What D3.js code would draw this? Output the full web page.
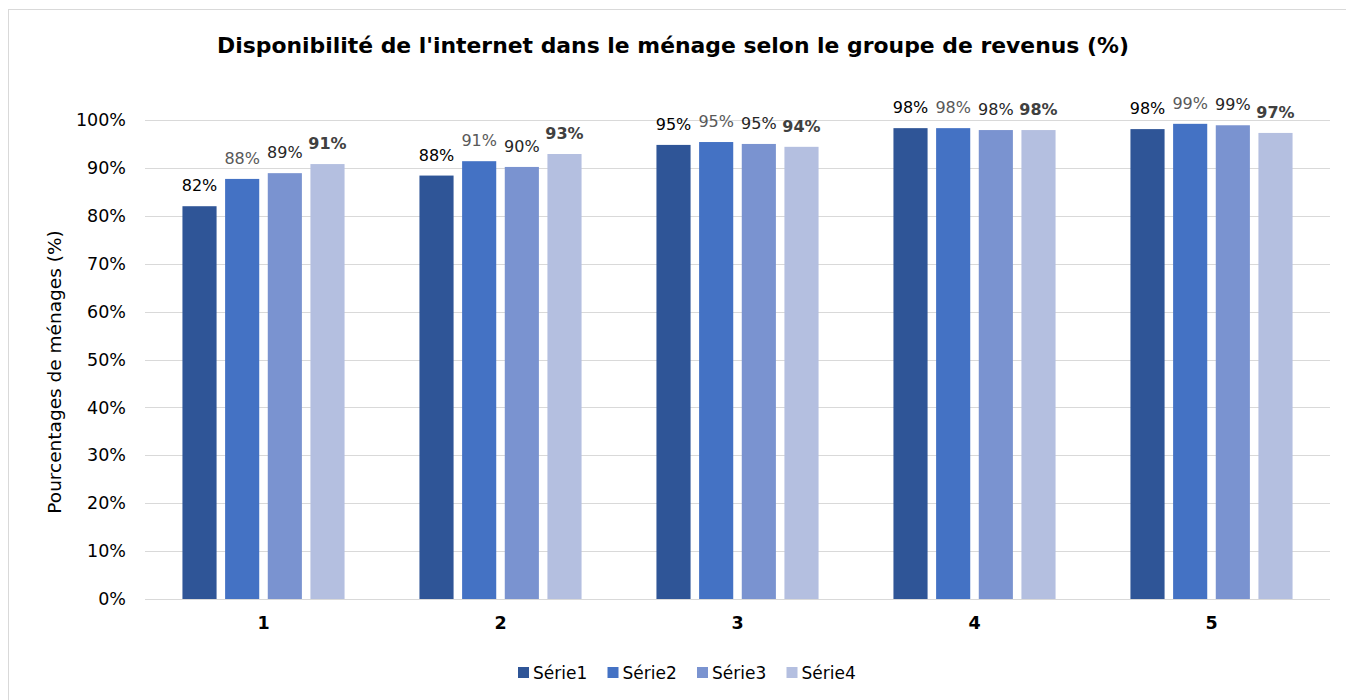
<!DOCTYPE html>
<meta charset="utf-8">
<style>
body { margin: 0; background: #fff; }
svg { font-family: "DejaVu Sans", Verdana, sans-serif; }
.grid line { stroke: #d9d9d9; stroke-width: 1px; }
</style>
<svg width="1346" height="700"></svg>
<script src="https://cdn.jsdelivr.net/npm/d3@7/dist/d3.min.js"></script>
<script>

var categories = ["1", "2", "3", "4", "5"];
var seriesNames = ["Série1", "Série2", "Série3", "Série4"];
var serie1 = [82.0, 88.4, 94.8, 98.3, 98.1];
var serie2 = [87.7, 91.4, 95.4, 98.3, 99.2];
var serie3 = [88.9, 90.2, 95.0, 97.9, 98.9];
var serie4 = [90.8, 92.9, 94.4, 97.9, 97.3];
var yTicks = [0, 10, 20, 30, 40, 50, 60, 70, 80, 90, 100];

var colors = ["#2f5597", "#4472c4", "#7a93d0", "#b4bfe0"];
// each series has its own label style in the original
var labelFill = ["#000000", "#595959", "#262626", "#404040"];
var labelWeight = ["normal", "normal", "normal", "bold"];

var values = [serie1, serie2, serie3, serie4];

var svg = d3.select("svg");

// chart frame
svg.append("rect")
    .attr("x", 8.5).attr("y", 9.5)
    .attr("width", 1400).attr("height", 800)
    .attr("fill", "none")
    .attr("stroke", "#d9d9d9");

var x0 = d3.scaleBand()
    .domain(categories)
    .range([145, 1330])
    .paddingInner(0.316)
    .paddingOuter(0.158);

var x1 = d3.scaleBand()
    .domain(d3.range(seriesNames.length))
    .range([0, x0.bandwidth()])
    .paddingInner(0.2);

var y = d3.scaleLinear()
    .domain([0, 100])
    .range([599, 120]);

// gridlines
svg.append("g")
    .attr("class", "grid")
    .selectAll("line")
    .data(yTicks)
    .enter().append("line")
    .attr("x1", 145).attr("x2", 1330)
    .attr("y1", function(d) { return Math.round(y(d)) + 0.5; })
    .attr("y2", function(d) { return Math.round(y(d)) + 0.5; });

// y axis labels
var yAxis = d3.axisLeft(y)
    .tickValues(yTicks)
    .tickSize(0)
    .tickPadding(19)
    .tickFormat(function(d) { return d + "%"; });

svg.append("g")
    .attr("transform", "translate(145,0)")
    .call(yAxis)
    .call(function(g) { g.select(".domain").remove(); })
    .selectAll("text")
    .attr("font-family", "DejaVu Sans")
    .attr("font-size", 17.5)
    .attr("fill", "#000");

// x axis labels
var xAxis = d3.axisBottom(x0).tickSize(0).tickPadding(18);

svg.append("g")
    .attr("transform", "translate(0,599)")
    .call(xAxis)
    .call(function(g) { g.select(".domain").remove(); })
    .selectAll("text")
    .attr("font-family", "DejaVu Sans")
    .attr("font-size", 17.5)
    .attr("font-weight", "bold")
    .attr("fill", "#000");

// bars
var groups = svg.append("g")
    .selectAll("g")
    .data(categories)
    .enter().append("g")
    .attr("transform", function(d) { return "translate(" + x0(d) + ",0)"; });

groups.selectAll("rect")
    .data(function(d, i) {
        return values.map(function(s, j) { return { s: j, v: s[i] }; });
    })
    .enter().append("rect")
    .attr("x", function(d) { return x1(d.s); })
    .attr("y", function(d) { return y(d.v); })
    .attr("width", x1.bandwidth())
    .attr("height", function(d) { return y(0) - y(d.v); })
    .attr("fill", function(d) { return colors[d.s]; });

groups.selectAll("text")
    .data(function(d, i) {
        return values.map(function(s, j) { return { s: j, v: s[i] }; });
    })
    .enter().append("text")
    .attr("x", function(d) { return x1(d.s) + x1.bandwidth() / 2; })
    .attr("y", function(d) { return y(d.v) - 15; })
    .attr("text-anchor", "middle")
    .attr("font-size", 16)
    .attr("font-weight", function(d) { return labelWeight[d.s]; })
    .attr("fill", function(d) { return labelFill[d.s]; })
    .text(function(d) { return Math.round(d.v) + "%"; });

// title
svg.append("text")
    .attr("x", 673)
    .attr("y", 53)
    .attr("text-anchor", "middle")
    .attr("font-size", 21.9)
    .attr("font-weight", "bold")
    .attr("fill", "#000")
    .text("Disponibilité de l'internet dans le ménage selon le groupe de revenus (%)");

// y axis title
svg.append("text")
    .attr("transform", "translate(61,372) rotate(-90)")
    .attr("text-anchor", "middle")
    .attr("font-size", 18.5)
    .attr("fill", "#000")
    .text("Pourcentages de ménages (%)");

// legend
var legend = svg.append("g")
    .selectAll("g")
    .data(seriesNames)
    .enter().append("g")
    .attr("transform", function(d, i) { return "translate(" + (518 + i * 89.5) + ",667)"; });

legend.append("rect")
    .attr("width", 11).attr("height", 11)
    .attr("fill", function(d, i) { return colors[i]; });

legend.append("text")
    .attr("x", 15)
    .attr("y", 11.5)
    .attr("font-size", 17)
    .attr("fill", "#000")
    .text(function(d) { return d; });

</script>
